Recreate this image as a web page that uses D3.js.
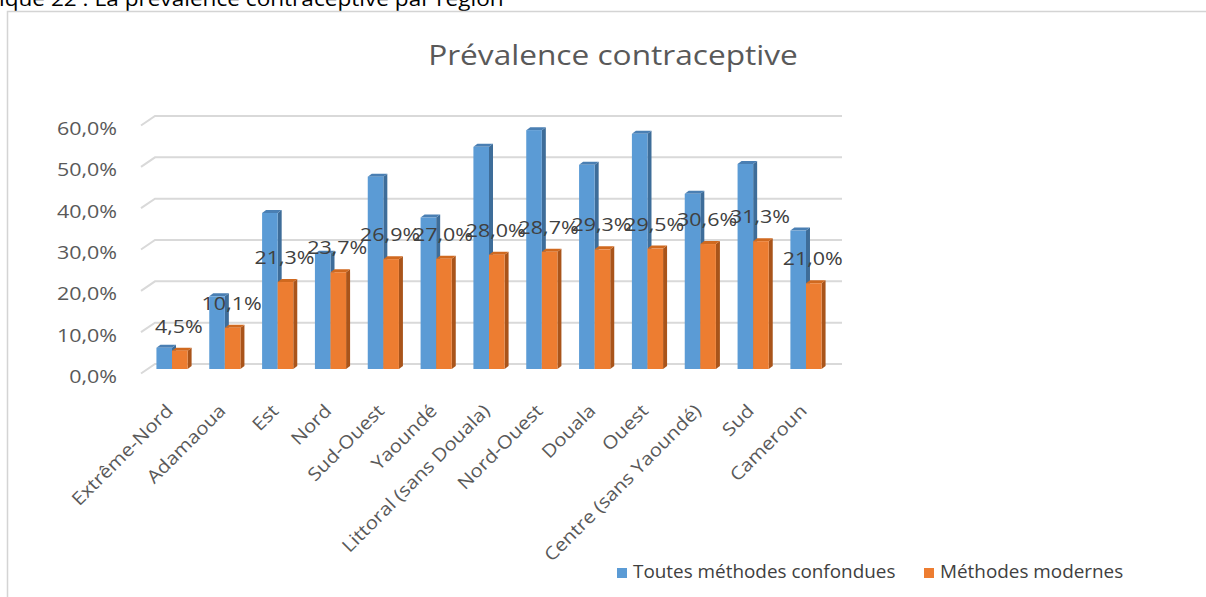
<!DOCTYPE html>
<html>
<head>
<meta charset="utf-8">
<script src="https://cdn.jsdelivr.net/npm/d3@7"></script>
<style>
  html, body { margin: 0; padding: 0; background: #ffffff; }
  svg { display: block; }
  text { font-family: "Open Sans", "Noto Sans", sans-serif; }
</style>
</head>
<body>
<svg id="chart" width="1206" height="597"></svg>
<script>
// Regions, in display order
const regions = ["Extrême-Nord", "Adamaoua", "Est", "Nord", "Sud-Ouest", "Yaoundé",
  "Littoral (sans Douala)", "Nord-Ouest", "Douala", "Ouest",
  "Centre (sans Yaoundé)", "Sud", "Cameroun"];

// Contraceptive prevalence (%), all methods
const toutesMethodes = [5.2, 17.8, 38.2, 28.2, 47.1, 37.1, 54.4, 58.5, 50.0, 57.6, 42.9, 50.2, 33.9];
// Contraceptive prevalence (%), modern methods
const methodesModernes = [4.5, 10.1, 21.3, 23.7, 26.9, 27.0, 28.0, 28.7, 29.3, 29.5, 30.6, 31.3, 21.0];

const yTicks = [0, 10, 20, 30, 40, 50, 60];
const seriesNames = ["Toutes méthodes confondues", "Méthodes modernes"];

const fmt = v => d3.format(".1f")(v).replace(".", ",") + "%";

// Text in this chart uses a slightly widened face
const SX = 1.13;

const svg = d3.select("#chart");

// Caption line above the chart frame
svg.append("text")
  .attr("transform", `translate(-1,6) scale(${SX},1)`)
  .attr("font-size", 20).attr("fill", "#000")
  .text("ique 22 : La prévalence contraceptive par région");

// Chart frame
svg.append("rect")
  .attr("x", 7.5).attr("y", 11.5).attr("width", 1230).attr("height", 620)
  .attr("fill", "none").attr("stroke", "#d4d4d4").attr("stroke-width", 1.5);

// Title
svg.append("text")
  .attr("transform", `translate(613,65) scale(${SX},1)`)
  .attr("text-anchor", "middle")
  .attr("font-size", 28).attr("fill", "#595959")
  .text("Prévalence contraceptive");

// Scales: back wall (gridlines) and front face of the bars
const yBack = d3.scaleLinear().domain([0, 60]).range([364, 116]);
const yFront = d3.scaleLinear().domain([0, 60]).range([369, 124]);
const x = d3.scaleBand().domain(regions).range([145.6, 832.4])
  .paddingInner(0.41).paddingOuter(0.205);
const bw = x.bandwidth() / 2;
const depthX = 4, depthY = 3;

// Gridlines with perspective floor segment
const grid = svg.append("g");
yTicks.forEach(t => {
  const yb = yBack(t);
  grid.append("path")
    .attr("d", `M141,${yb + 9.5}L155,${yb}L842,${yb}`)
    .attr("fill", "none").attr("stroke", "#d9d9d9").attr("stroke-width", 2);
});

// Y axis labels
const yAxis = d3.axisLeft(yBack).tickValues(yTicks).tickFormat(fmt).tickSize(0).tickPadding(0);
const yg = svg.append("g").attr("transform", "translate(117,0)").call(yAxis);
yg.select(".domain").remove();
yg.selectAll(".tick text")
  .attr("font-size", 19).attr("fill", "#595959")
  .attr("font-family", "'Open Sans', sans-serif")
  .attr("dy", "0").attr("x", 0).attr("y", 0)
  .attr("transform", `translate(0,18.5) scale(${SX},1)`)
  .attr("text-anchor", "end");

// 3D-style bar: front face, top face, side face
function bar3d(g, x0, v, colors) {
  const yt = yFront(v), yb = yFront(0);
  g.append("path")
    .attr("d", `M${x0 + bw},${yt}L${x0 + bw + depthX},${yt - depthY}L${x0 + bw + depthX},${yb - depthY}L${x0 + bw},${yb}Z`)
    .attr("fill", colors.side);
  g.append("path")
    .attr("d", `M${x0},${yt}L${x0 + depthX},${yt - depthY}L${x0 + bw + depthX},${yt - depthY}L${x0 + bw},${yt}Z`)
    .attr("fill", colors.top);
  g.append("rect")
    .attr("x", x0).attr("y", yt).attr("width", bw).attr("height", yb - yt)
    .attr("fill", colors.front);
}

const blue = { front: "#5B9BD5", top: "#4A7FB3", side: "#3E6D99" };
const orange = { front: "#ED7D31", top: "#D0691F", side: "#A9541A" };

const bars = svg.append("g");
regions.forEach((r, i) => {
  const g = bars.append("g");
  bar3d(g, x(r), toutesMethodes[i], blue);
  bar3d(g, x(r) + bw, methodesModernes[i], orange);
});

// Value labels for modern methods
const labels = svg.append("g");
regions.forEach((r, i) => {
  const lx = x(r) + bw * 1.5 - 1;
  const ly = yFront(methodesModernes[i]) - 18;
  labels.append("text")
    .attr("transform", `translate(${lx},${ly}) scale(${SX},1)`)
    .attr("text-anchor", "middle")
    .attr("font-size", 19).attr("fill", "#404040")
    .text(fmt(methodesModernes[i]));
});

// Category labels, rotated
const xl = svg.append("g");
regions.forEach(r => {
  const cx = x(r) + x.bandwidth() / 2;
  xl.append("text")
    .attr("transform", `translate(${cx + 2},${412}) rotate(-45) scale(${SX},1)`)
    .attr("text-anchor", "end")
    .attr("font-size", 18).attr("fill", "#595959")
    .text(r);
});

// Legend
const legendColors = ["#5B9BD5", "#ED7D31"];
const legendX = [617, 924];
seriesNames.forEach((name, i) => {
  svg.append("rect")
    .attr("x", legendX[i]).attr("y", 568).attr("width", 10).attr("height", 10)
    .attr("fill", legendColors[i]);
  svg.append("text")
    .attr("transform", `translate(${legendX[i] + 16},578) scale(1.05,1)`)
    .attr("font-size", 18).attr("fill", "#404040")
    .text(name);
});
</script>
</body>
</html>
